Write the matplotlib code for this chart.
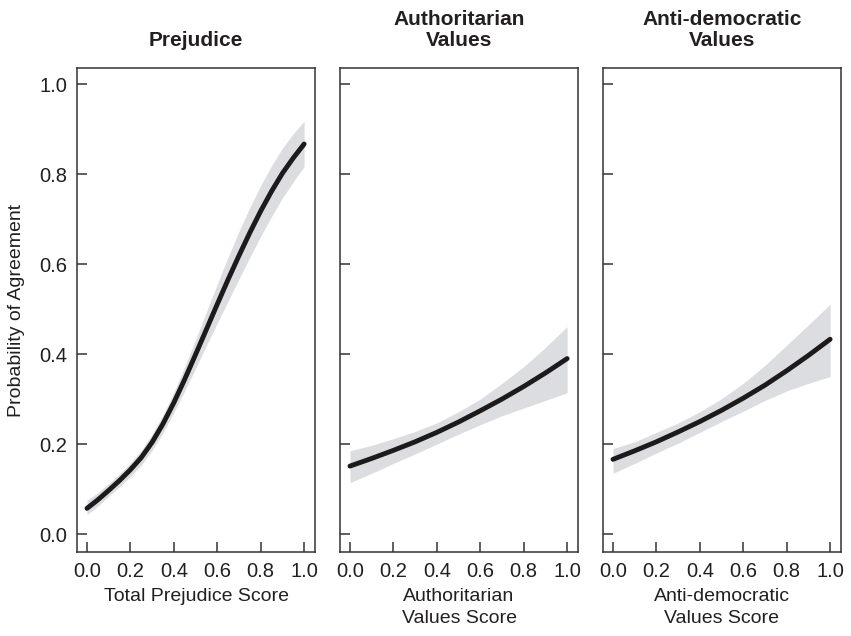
import matplotlib
matplotlib.use("Agg")
import matplotlib.pyplot as plt
from matplotlib import font_manager

# ---------------- data ----------------
titles = ["Prejudice", "Authoritarian\nValues", "Anti-democratic\nValues"]
xlabels = ["Total Prejudice Score", "Authoritarian\nValues Score", "Anti-democratic\nValues Score"]
ylabel = "Probability of Agreement"
tick_vals = [0.0, 0.2, 0.4, 0.6, 0.8, 1.0]
tick_labels = ["0.0", "0.2", "0.4", "0.6", "0.8", "1.0"]

# Panel 1: Prejudice
x_prej = [0.00, 0.05, 0.10, 0.15, 0.20, 0.25, 0.30, 0.35, 0.40, 0.45, 0.50,
          0.55, 0.60, 0.65, 0.70, 0.75, 0.80, 0.85, 0.90, 0.95, 1.00]
fit_prej = [0.057, 0.076, 0.097, 0.119, 0.143, 0.170, 0.204, 0.245, 0.292, 0.344, 0.399,
            0.455, 0.511, 0.566, 0.619, 0.670, 0.718, 0.762, 0.802, 0.836, 0.867]
lo_prej = [0.043, 0.062, 0.084, 0.105, 0.128, 0.153, 0.186, 0.225, 0.270, 0.318, 0.368,
           0.419, 0.469, 0.518, 0.567, 0.615, 0.662, 0.706, 0.747, 0.783, 0.817]
hi_prej = [0.075, 0.092, 0.112, 0.134, 0.158, 0.186, 0.222, 0.265, 0.315, 0.372, 0.432,
           0.494, 0.556, 0.616, 0.673, 0.726, 0.775, 0.819, 0.858, 0.890, 0.918]

# Panel 2: Authoritarian values
x_auth = [0.0, 0.1, 0.2, 0.3, 0.4, 0.5, 0.6, 0.7, 0.8, 0.9, 1.0]
fit_auth = [0.151, 0.168, 0.186, 0.205, 0.226, 0.249, 0.274, 0.300, 0.328, 0.358, 0.390]
lo_auth = [0.114, 0.135, 0.157, 0.178, 0.200, 0.222, 0.243, 0.263, 0.280, 0.297, 0.314]
hi_auth = [0.185, 0.197, 0.212, 0.228, 0.247, 0.272, 0.300, 0.335, 0.372, 0.415, 0.461]

# Panel 3: Anti-democratic values
x_anti = [0.0, 0.1, 0.2, 0.3, 0.4, 0.5, 0.6, 0.7, 0.8, 0.9, 1.0]
fit_anti = [0.166, 0.185, 0.205, 0.227, 0.250, 0.275, 0.302, 0.331, 0.363, 0.397, 0.433]
lo_anti = [0.135, 0.157, 0.180, 0.202, 0.226, 0.250, 0.273, 0.297, 0.318, 0.335, 0.350]
hi_anti = [0.190, 0.205, 0.226, 0.247, 0.272, 0.301, 0.335, 0.375, 0.420, 0.465, 0.511]

panels = [
    (x_prej, fit_prej, lo_prej, hi_prej),
    (x_auth, fit_auth, lo_auth, hi_auth),
    (x_anti, fit_anti, lo_anti, hi_anti),
]

# ---------------- style ----------------
avail = {f.name for f in font_manager.fontManager.ttflist}
base_font = "Liberation Sans" if "Liberation Sans" in avail else "DejaVu Sans"
plt.rcParams["font.family"] = [base_font, "DejaVu Sans"]

TXT = "#231f20"
SPINE = "#333333"
BAND = "#dcdde0"
LINE = "#1c1a1b"

fig = plt.figure(figsize=(8.51, 6.36), dpi=100)
W, H = 851, 636
lefts = [77, 340, 603]
width = 238
top_px, bot_px = 68, 552

for i, (xs, fit, lo, hi) in enumerate(panels):
    ax = fig.add_axes([lefts[i] / W, 1 - bot_px / H, width / W, (bot_px - top_px) / H])
    ax.fill_between(xs, lo, hi, color=BAND, linewidth=0)
    ax.plot(xs, fit, color=LINE, linewidth=3.5, solid_capstyle="round",
            solid_joinstyle="round")
    ax.set_xlim(-0.046, 1.05)
    ax.set_ylim(-0.04, 1.036)
    ax.set_xticks(tick_vals)
    ax.set_xticklabels(tick_labels)
    ax.set_yticks(tick_vals)
    if i == 0:
        ax.set_yticklabels(tick_labels)
        ax.set_ylabel(ylabel, fontsize=14, color=TXT, labelpad=10)
    else:
        ax.set_yticklabels([])
    ax.tick_params(direction="in", length=7.5, width=1.1, color=SPINE,
                   labelsize=14.5, labelcolor=TXT, pad=7)
    for s in ax.spines.values():
        s.set_color(SPINE)
        s.set_linewidth(1.1)
    ax.set_xlabel(xlabels[i], fontsize=14, color=TXT, labelpad=5, linespacing=1.4)
    ax.text(0.5, 1.037, titles[i], transform=ax.transAxes, ha="center", va="bottom",
            fontsize=15, fontweight="bold", color=TXT, linespacing=1.15)

fig.savefig("out.png", dpi=100, facecolor="white")
